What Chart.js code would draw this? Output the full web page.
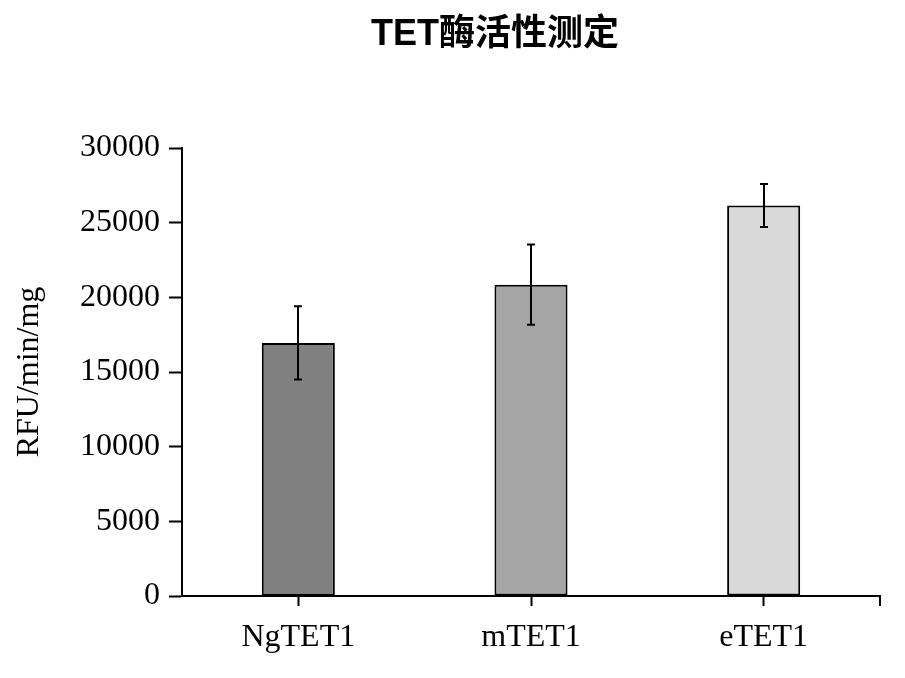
<!DOCTYPE html>
<html>
<head>
<meta charset="utf-8">
<script src="https://cdn.jsdelivr.net/npm/chart.js@4.4.1/dist/chart.umd.min.js"></script>
<style>
html,body{margin:0;padding:0;background:#fff;}
#wrap{width:905px;height:678px;}
</style>
</head>
<body>
<div id="wrap"><canvas id="c" width="905" height="678"></canvas></div>
<script>
const titleText = 'TET酶活性测定';
const categories = ['NgTET1', 'mTET1', 'eTET1'];
const activity = [16950, 20850, 26150];
const errors = [2450, 2680, 1440];
const barColors = ['#808080', '#a6a6a6', '#d9d9d9'];
const yTicks = [0, 5000, 10000, 15000, 20000, 25000, 30000];
const yTitle = 'RFU/min/mg';

const serif = '"Liberation Serif", "Times New Roman", serif';

const errorBarPlugin = {
  id: 'errorBars',
  afterDatasetsDraw(chart) {
    const ctx = chart.ctx;
    const meta = chart.getDatasetMeta(0);
    const ys = chart.scales.y;
    ctx.save();
    ctx.strokeStyle = '#000';
    ctx.lineWidth = 2;
    meta.data.forEach((bar, i) => {
      const x = Math.round(bar.x);
      const yTop = ys.getPixelForValue(activity[i] + errors[i]);
      const yBot = ys.getPixelForValue(activity[i] - errors[i]);
      ctx.beginPath();
      ctx.moveTo(x, yTop); ctx.lineTo(x, yBot);
      ctx.moveTo(x - 4, yTop); ctx.lineTo(x + 4, yTop);
      ctx.moveTo(x - 4, yBot); ctx.lineTo(x + 4, yBot);
      ctx.stroke();
    });
    ctx.restore();
  }
};

const extrasPlugin = {
  id: 'extras',
  afterDraw(chart) {
    const ctx = chart.ctx;
    const a = chart.chartArea;
    ctx.save();
    ctx.strokeStyle = '#000';
    ctx.lineWidth = 2;
    ctx.beginPath();
    ctx.moveTo(a.right, a.bottom);
    ctx.lineTo(a.right, a.bottom + 10);
    ctx.stroke();
    ctx.fillStyle = '#000';
    ctx.font = 'bold 36px "Liberation Sans", "Noto Sans CJK SC", sans-serif';
    ctx.textAlign = 'center';
    ctx.textBaseline = 'middle';
    ctx.fillText(titleText, 495, 35);
    ctx.restore();
  }
};

new Chart(document.getElementById('c'), {
  type: 'bar',
  data: {
    labels: categories,
    datasets: [{
      data: activity,
      backgroundColor: barColors,
      borderColor: '#000',
      borderWidth: 2,
      borderSkipped: false,
      categoryPercentage: 1,
      barPercentage: 0.314
    }]
  },
  options: {
    responsive: false,
    animation: false,
    devicePixelRatio: 1,
    layout: { padding: { top: 148, right: 25, left: 0, bottom: 0 } },
    plugins: {
      legend: { display: false },
      tooltip: { enabled: false },
      title: { display: false }
    },
    scales: {
      x: {
        offset: true,
        afterFit(s) { s.height = 82; },
        grid: { offset: false, drawOnChartArea: false, drawTicks: true, tickLength: 10, tickColor: '#000', tickWidth: 2 },
        border: { display: true, color: '#000', width: 2 },
        ticks: { color: '#000', font: { family: serif, size: 32 }, padding: 12 }
      },
      y: {
        min: 0, max: 30000,
        afterFit(s) { s.width = 182; },
        afterBuildTicks(s) { s.ticks = yTicks.map(v => ({ value: v })); },
        grid: { drawOnChartArea: false, drawTicks: true, tickLength: 13, tickColor: '#000', tickWidth: 2 },
        border: { display: true, color: '#000', width: 2 },
        ticks: { color: '#000', font: { family: serif, size: 32 }, padding: 9, callback: v => String(v) },
        title: { display: true, text: yTitle, color: '#000', font: { family: serif, size: 32, weight: 'normal' }, padding: { top: 10, bottom: 0 } }
      }
    }
  },
  plugins: [errorBarPlugin, extrasPlugin]
});
</script>
</body>
</html>
